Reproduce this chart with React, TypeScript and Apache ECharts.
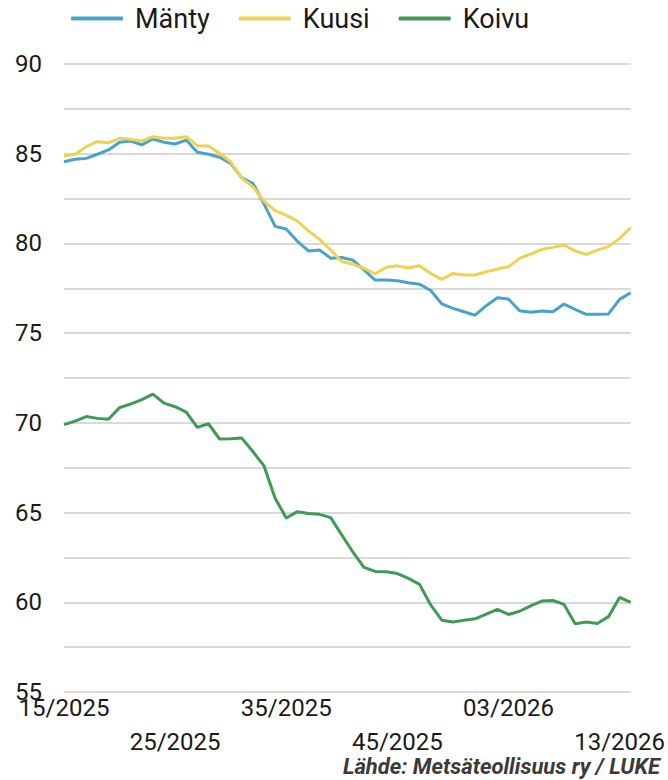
import React, { useEffect, useRef } from "react";
import * as echarts from "echarts";

const weeks: string[] = [
  "15/2025", "16/2025", "17/2025", "18/2025", "19/2025", "20/2025", "21/2025", "22/2025", "23/2025", "24/2025",
  "25/2025", "26/2025", "27/2025", "28/2025", "29/2025", "30/2025", "31/2025", "32/2025", "33/2025", "34/2025",
  "35/2025", "36/2025", "37/2025", "38/2025", "39/2025", "40/2025", "41/2025", "42/2025", "43/2025", "44/2025",
  "45/2025", "46/2025", "47/2025", "48/2025", "49/2025", "50/2025", "51/2025", "52/2025", "01/2026", "02/2026",
  "03/2026", "04/2026", "05/2026", "06/2026", "07/2026", "08/2026", "09/2026", "10/2026", "11/2026", "12/2026",
  "13/2026", "14/2026",
];

const manty: number[] = [
  84.55, 84.69, 84.74, 84.97, 85.21, 85.64, 85.71, 85.49, 85.82, 85.64,
  85.54, 85.76, 85.08, 84.97, 84.8, 84.46, 83.65, 83.35, 82.2, 80.95,
  80.8, 80.12, 79.58, 79.63, 79.18, 79.22, 79.07, 78.52, 77.96, 77.96,
  77.92, 77.81, 77.73, 77.38, 76.63, 76.38, 76.19, 76.0, 76.53, 76.97,
  76.9, 76.25, 76.16, 76.23, 76.19, 76.62, 76.33, 76.05, 76.05, 76.07,
  76.88, 77.25,
];

const kuusi: number[] = [
  84.89, 84.97, 85.39, 85.67, 85.61, 85.86, 85.8, 85.71, 85.95, 85.86,
  85.86, 85.95, 85.45, 85.43, 85.02, 84.55, 83.63, 83.16, 82.35, 81.83,
  81.58, 81.24, 80.7, 80.23, 79.63, 78.98, 78.85, 78.61, 78.31, 78.67,
  78.75, 78.63, 78.76, 78.33, 78.0, 78.33, 78.24, 78.24, 78.42, 78.57,
  78.7, 79.17, 79.41, 79.67, 79.78, 79.91, 79.58, 79.39, 79.63, 79.82,
  80.28, 80.88,
];

const koivu: number[] = [
  69.9, 70.1, 70.35, 70.25, 70.2, 70.85, 71.05, 71.3, 71.6, 71.1,
  70.9, 70.6, 69.75, 69.95, 69.1, 69.12, 69.15, 68.4, 67.6, 65.8,
  64.7, 65.05, 64.95, 64.9, 64.72, 63.75, 62.8, 61.95, 61.72, 61.7,
  61.6, 61.33, 61.0, 59.85, 59.0, 58.9, 59.0, 59.08, 59.34, 59.6,
  59.32, 59.5, 59.8, 60.07, 60.1, 59.88, 58.8, 58.9, 58.82, 59.2,
  60.27, 60.0,
];

const seriesNames = ["Mänty", "Kuusi", "Koivu"];
const seriesColors = ["#48A3CC", "#EED250", "#3F9A56"];
const sourceText = "Lähde: Metsäteollisuus ry / LUKE";

export default function App() {
  const ref = useRef<HTMLDivElement>(null);

  useEffect(() => {
    document.body.style.margin = "0";
    if (!ref.current) return;
    const chart = echarts.init(ref.current, null, { renderer: "svg" });
    const font = "Roboto, 'Noto Sans', sans-serif";
    const dataSets = [manty, kuusi, koivu];
    chart.setOption({
      animation: false,
      backgroundColor: "#ffffff",
      textStyle: { fontFamily: font },
      legend: {
        left: 66,
        top: 0,
        icon: "roundRect",
        itemWidth: 52,
        itemHeight: 4,
        itemGap: 29,
        data: seriesNames,
        textStyle: {
          fontFamily: font,
          fontSize: 27,
          color: "#1a1a1a",
          padding: [0, 0, 0, 7],
        },
      },
      grid: { left: 64, right: 34, top: 64, bottom: 88, containLabel: false },
      xAxis: {
        type: "category",
        data: weeks,
        boundaryGap: false,
        axisLine: { show: false },
        axisTick: { show: false },
        axisLabel: {
          interval: 9,
          fontFamily: font,
          fontSize: 24,
          color: "#1a1a1a",
          margin: -1,
          lineHeight: 34,
          formatter: (value: string, index: number) =>
            index % 20 === 10 ? "\n" + value : value,
        },
        splitLine: { show: false },
      },
      yAxis: {
        type: "value",
        min: 55,
        max: 90,
        interval: 2.5,
        axisLine: { show: false },
        axisTick: { show: false },
        axisLabel: {
          fontFamily: font,
          fontSize: 24,
          color: "#1a1a1a",
          margin: 22,
          formatter: (v: number) => (v % 5 === 0 ? String(v) : ""),
        },
        splitLine: { lineStyle: { color: "#cccccc", width: 1.5 } },
      },
      series: seriesNames.map((name, k) => ({
        name,
        type: "line",
        data: dataSets[k],
        symbol: "none",
        color: seriesColors[k],
        lineStyle: { width: 3, color: seriesColors[k] },
      })),
      graphic: [
        {
          type: "text",
          right: 8,
          top: 755,
          style: {
            text: sourceText,
            fontFamily: font,
            fontSize: 22,
            fontWeight: "bold",
            fontStyle: "italic",
            fill: "#3a3a3a",
          },
        },
      ],
    });
    return () => chart.dispose();
  }, []);

  return <div ref={ref} style={{ width: 668, height: 780 }} />;
}
